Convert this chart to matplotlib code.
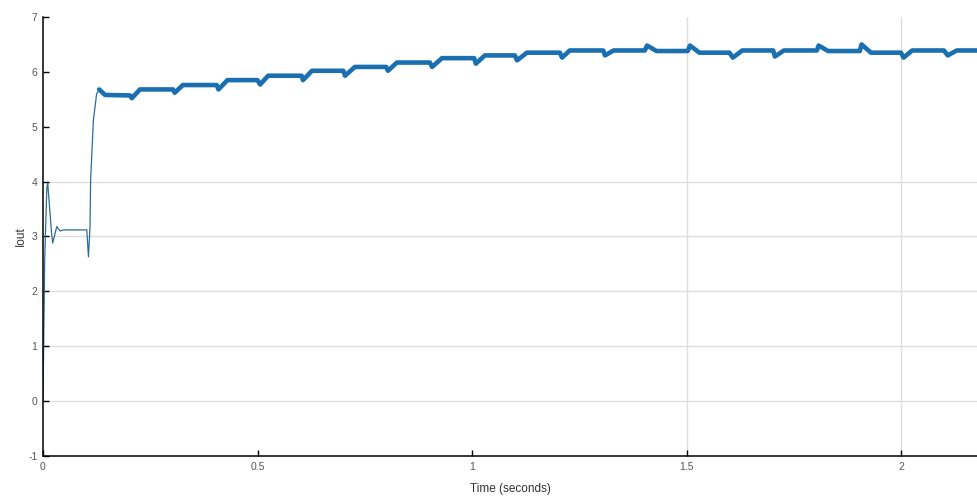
import matplotlib
matplotlib.use("Agg")
import matplotlib.pyplot as plt
import numpy as np

# start-up transient (thin trace)
t_start = [0, 0.004, 0.009, 0.011, 0.020, 0.0226, 0.032, 0.040, 0.047, 0.102,
           0.106, 0.1096, 0.111, 0.1175, 0.125, 0.131, 0.1445]
i_start = [0, 2.6, 3.9, 3.97, 3.06, 2.88, 3.18, 3.10, 3.12, 3.12,
           2.63, 3.18, 4.03, 5.12, 5.6, 5.68, 5.58]

# staircase with ripple (thick trace)
t_main = [0.131, 0.1445, 0.203, 0.207, 0.226, 0.303, 0.307, 0.326, 0.405, 0.409, 0.43,
          0.50, 0.506, 0.525, 0.603, 0.606, 0.627, 0.700, 0.704, 0.727, 0.800,
          0.804, 0.825, 0.902, 0.907, 0.93, 1.005, 1.009, 1.03, 1.10, 1.105,
          1.128, 1.205, 1.21, 1.228, 1.306, 1.31, 1.33, 1.403, 1.408, 1.43,
          1.503, 1.508, 1.53, 1.60, 1.608, 1.63, 1.702, 1.706, 1.727, 1.804,
          1.808, 1.83, 1.904, 1.908, 1.93, 2.0, 2.006, 2.026, 2.10, 2.109,
          2.13, 2.18]
i_main = [5.68, 5.58, 5.57, 5.52, 5.68, 5.68, 5.62, 5.76, 5.76, 5.68, 5.85,
          5.85, 5.77, 5.93, 5.93, 5.85, 6.02, 6.02, 5.93, 6.09, 6.09,
          6.02, 6.17, 6.17, 6.09, 6.25, 6.25, 6.15, 6.30, 6.30, 6.21,
          6.35, 6.35, 6.26, 6.39, 6.39, 6.30, 6.39, 6.39, 6.48, 6.38,
          6.38, 6.48, 6.35, 6.35, 6.26, 6.39, 6.39, 6.28, 6.39, 6.39,
          6.48, 6.38, 6.38, 6.50, 6.35, 6.35, 6.26, 6.39, 6.39, 6.30,
          6.39, 6.39]

x_ticks = [0, 0.5, 1, 1.5, 2]
x_tick_labels = ["0", "0.5", "1", "1.5", "2"]
y_ticks = [-1, 0, 1, 2, 3, 4, 5, 6, 7]
grid_y = [0, 1, 2, 3, 4]
grid_x = [1.5, 2]

plt.rcParams['font.family'] = ['Liberation Sans', 'DejaVu Sans']
plt.rcParams['axes.unicode_minus'] = False

fig = plt.figure(figsize=(9.77, 4.96), dpi=100)
ax = fig.add_axes([43 / 977, 40 / 496, 934 / 977, 439 / 496])

for g in grid_y:
    ax.axhline(g, color="#dedede", linewidth=1.0, zorder=0)
for g in grid_x:
    ax.axvline(g, color="#dedede", linewidth=1.0, zorder=0)

ax.plot(t_start, i_start, color="#2c6c94", linewidth=0.9, zorder=2)
ax.plot(t_main, i_main, color="#1a6fb0", linewidth=3.3, solid_joinstyle="round",
        solid_capstyle="round", zorder=3)

ax.set_xlim(0, 934 / 429)
ax.set_ylim(-1, 7)
ax.set_xticks(x_ticks)
ax.set_xticklabels(x_tick_labels)
ax.set_yticks(y_ticks)

ax.spines['top'].set_visible(False)
ax.spines['right'].set_visible(False)
ax.spines['left'].set_linewidth(1.1)
ax.spines['bottom'].set_linewidth(1.1)
ax.tick_params(direction="in", length=4, width=1, labelsize=7.5,
               labelcolor="#555555", pad=4)

ax.set_xlabel("Time (seconds)", fontsize=8.5, color="#333333", labelpad=8)
ax.set_ylabel("Iout", fontsize=8.5, color="#333333", labelpad=1)

fig.savefig("out.png", dpi=100)
plt.close(fig)
